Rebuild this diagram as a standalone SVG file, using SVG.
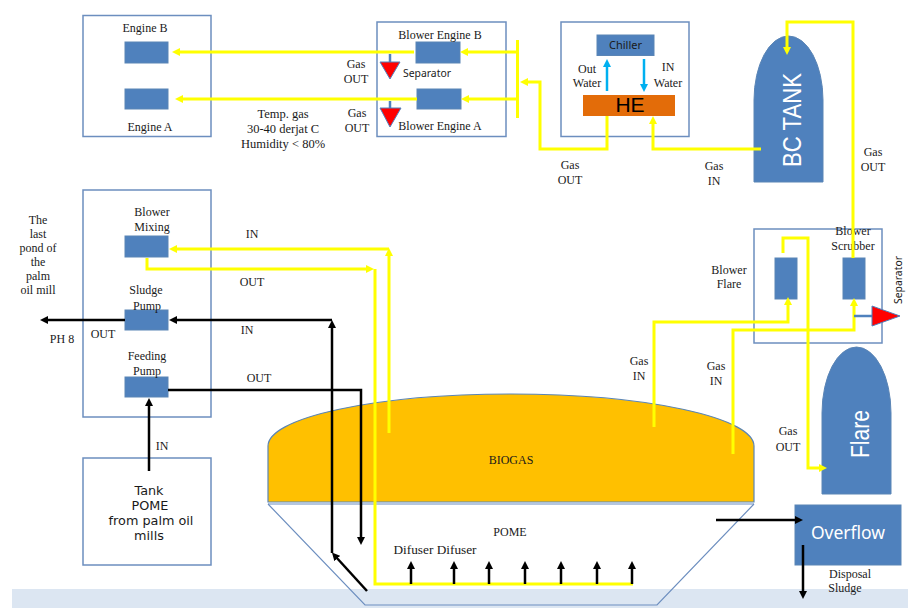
<svg xmlns="http://www.w3.org/2000/svg" width="908" height="608" viewBox="0 0 908 608">
<style>
text{font-family:"Liberation Serif","Times New Roman",serif;font-size:12px;fill:#1a1a1a;text-anchor:middle}
.sans{font-family:"Noto Sans","Liberation Sans",sans-serif}
.box{fill:#fff;stroke:#6c8ebf;stroke-width:1.5}
.b{fill:#4f81bd;stroke:#5b85b5;stroke-width:1}
.y,.k,.c,.s{fill:none;stroke-linejoin:miter}
.y{stroke:#ffff00;stroke-width:3}
.k{stroke:#000;stroke-width:2.5}
.c{stroke:#00b0f0;stroke-width:2.5}
.s{stroke:#4f81bd;stroke-width:2.5}
.tri{fill:#ff0000;stroke:#4f81bd;stroke-width:1}
.tank{font-family:"DejaVu Sans",sans-serif;font-size:12.800px}
.tl{font-size:12.500px}
</style>
<defs>
<marker id="ay" markerUnits="userSpaceOnUse" viewBox="0 0 8 8" markerWidth="8" markerHeight="8" refX="2" refY="4" orient="auto"><path d="M0 0L8 4L0 8Z" fill="#ffff00"/></marker>
<marker id="ak" markerUnits="userSpaceOnUse" viewBox="0 0 8 8" markerWidth="8" markerHeight="8" refX="2" refY="4" orient="auto"><path d="M0 0L8 4L0 8Z" fill="#000"/></marker>
<marker id="ac" markerUnits="userSpaceOnUse" viewBox="0 0 8 8" markerWidth="8" markerHeight="8" refX="2" refY="4" orient="auto"><path d="M0 0L8 4L0 8Z" fill="#00b0f0"/></marker>
</defs>
<rect id="ground" x="12" y="589" width="896" height="19" fill="#dce6f2"/>

<g id="engine-box">
<rect class="box" x="83" y="15.500" width="128" height="121"/>
<rect class="b" x="125" y="42" width="43" height="21"/>
<rect class="b" x="125" y="89" width="43" height="20"/>
<text x="145" y="32">Engine B</text>
<text x="150" y="131">Engine A</text>
</g>
<g id="blower-engine-box">
<rect class="box" x="377" y="22" width="129" height="114.500"/>
<rect class="b" x="416" y="42" width="44" height="21"/>
<rect class="b" x="417" y="89" width="44" height="20"/>
<text x="440" y="39">Blower Engine B</text>
<text x="440" y="130">Blower Engine A</text>
</g>
<g id="he-box">
<rect class="box" x="561" y="22" width="128" height="114.500"/>
<rect id="chiller" class="b" x="597" y="35" width="57" height="20.500"/>
<rect id="he" x="583" y="95" width="92" height="21" fill="#e36c09"/>
<text class="sans" x="625.500" y="49" style="font-size:11px">Chiller</text>
<text x="630" y="112" style="font-family:'Liberation Sans',sans-serif;font-size:21px;fill:#000">HE</text>
<text x="587" y="73">Out</text><text x="587" y="87">Water</text>
<text x="668" y="71">IN</text><text x="668" y="87">Water</text>
</g>
<g id="bc-tank">
<path class="b" d="M754 182V100A34.500 64 0 0 1 823 100V182Z"/>
<text transform="translate(801 120) rotate(-90)" textLength="94" lengthAdjust="spacingAndGlyphs" style="font-family:'Liberation Sans',sans-serif;font-size:25px;fill:#fff">BC TANK</text>
</g>
<g id="mixing-box">
<rect class="box" x="83" y="190" width="128" height="227"/>
<rect class="b" x="125" y="236" width="43" height="21"/>
<rect class="b" x="125" y="310" width="43" height="20"/>
<rect class="b" x="125" y="377" width="43" height="20"/>
<text x="152" y="216">Blower</text><text x="152" y="231">Mixing</text>
<text x="146" y="294">Sludge</text><text x="147" y="310">Pump</text>
<text x="147" y="360">Feeding</text><text x="147" y="375">Pump</text>
</g>
<g id="tank-pome">
<rect class="box" x="83" y="458" width="128" height="107"/>
<text class="tank" x="149" y="495">Tank</text>
<text class="tank" x="150" y="510">POME</text>
<text class="tank" x="151" y="525">from palm oil</text>
<text class="tank" x="149" y="540">mills</text>
</g>
<g id="scrubber-box">
<rect class="box" x="754" y="229" width="128" height="114"/>
<rect class="b" x="775" y="258" width="22" height="41"/>
<rect class="b" x="843" y="258" width="22" height="41"/>
<text x="729" y="274">Blower</text><text x="729" y="288">Flare</text>
<text x="853" y="235">Blower</text><text x="853" y="250">Scrubber</text>
</g>
<g id="flare">
<path class="b" d="M822 494V413A34.500 66 0 0 1 891 413V494Z"/>
<text transform="translate(869 434) rotate(-90)" textLength="48" lengthAdjust="spacingAndGlyphs" style="font-family:'Liberation Sans',sans-serif;font-size:25px;fill:#fff">Flare</text>
</g>
<g id="overflow">
<rect class="b" x="795" y="505" width="106" height="60"/>
<text class="sans" x="848" y="539" style="font-size:17.500px;fill:#fff">Overflow</text>
</g>
<g id="digester">
<path d="M268 504L365 605H657L754 504" fill="none" stroke="#6c8ebf" stroke-width="1.200"/>
<path d="M268 502V446A243 52 0 0 1 754 446V502Z" fill="#ffc000" stroke="#5b85b5" stroke-width="1.200"/>
<path d="M268 504H754" stroke="#6c8ebf" stroke-width="1.200"/>
<text x="511" y="464">BIOGAS</text>
<text x="510" y="536">POME</text>
<text x="435" y="554" style="font-size:13.300px">Difuser Difuser</text>
</g>

<g id="connectors">
<path class="y" d="M414 52H178" marker-end="url(#ay)"/>
<path class="y" d="M417 99H181" marker-end="url(#ay)"/>
<path class="y" d="M518 52H466" marker-end="url(#ay)"/>
<path class="y" d="M518 99H467" marker-end="url(#ay)"/>
<path class="y" d="M517.500 40V118"/>
<path class="y" d="M607 116V149H540V82H526" marker-end="url(#ay)"/>
<path class="y" d="M761 149H653V122" marker-end="url(#ay)"/>
<path class="y" d="M853 258V22H787V49" marker-end="url(#ay)"/>
<path class="y" d="M783 253V238H808V468H821" marker-end="url(#ay)"/>
<path class="y" d="M654 427V322H788V303" marker-end="url(#ay)"/>
<path class="y" d="M733 454V330H854V304" marker-end="url(#ay)"/>
<path class="y" d="M389 433V254" marker-end="url(#ay)"/>
<path class="y" d="M389 249H175" marker-end="url(#ay)"/>
<path class="y" d="M147 258V269H368" marker-end="url(#ay)"/>
<path class="y" d="M375 269V584H633"/>
<path class="c" d="M607 91V65" marker-end="url(#ac)"/>
<path class="c" d="M644 59V86" marker-end="url(#ac)"/>
<path class="k" d="M332 553V326" marker-end="url(#ak)"/>
<path class="k" d="M332 320H175" marker-end="url(#ak)"/>
<path class="k" d="M125 320H46" marker-end="url(#ak)"/>
<path class="k" d="M367 591L336 557" marker-end="url(#ak)"/>
<path class="k" d="M168 390H361V539" marker-end="url(#ak)"/>
<path class="k" d="M149 471V404" marker-end="url(#ak)"/>
<path class="k" d="M411 584V567" marker-end="url(#ak)"/>
<path class="k" d="M454 584V567" marker-end="url(#ak)"/>
<path class="k" d="M489 584V567" marker-end="url(#ak)"/>
<path class="k" d="M525 584V567" marker-end="url(#ak)"/>
<path class="k" d="M561 584V567" marker-end="url(#ak)"/>
<path class="k" d="M597 584V567" marker-end="url(#ak)"/>
<path class="k" d="M632 584V567" marker-end="url(#ak)"/>
<path class="k" d="M716 520H797" marker-end="url(#ak)"/>
<path class="k" d="M803 545V593" marker-end="url(#ak)"/>
<path class="s" d="M390 54V62"/>
<path class="s" d="M390 101V108"/>
<path class="s" d="M854 316H872"/>
</g>
<g id="separators">
<path class="tri" d="M380 62H400L390 79Z"/>
<path class="tri" d="M380 108H401L390 127Z"/>
<path class="tri" d="M872 306L900 316L872 326Z"/>
<text class="sans" x="427" y="77" style="font-size:10.400px">Separator</text>
<text class="sans" transform="translate(902 280) rotate(-90)" style="font-size:10.400px">Separator</text>
</g>
<g id="labels">
<text x="356" y="68">Gas</text><text x="356" y="83">OUT</text>
<text x="357" y="117">Gas</text><text x="357" y="132">OUT</text>
<text class="tl" x="283" y="118">Temp. gas</text><text class="tl" x="283" y="133">30-40 derjat C</text><text class="tl" x="283" y="148">Humidity &lt; 80%</text>
<text x="570" y="169">Gas</text><text x="570" y="184">OUT</text>
<text x="714" y="170">Gas</text><text x="714" y="185">IN</text>
<text x="873" y="156">Gas</text><text x="873" y="171">OUT</text>
<text x="38" y="224">The</text><text x="38" y="238">last</text><text x="38" y="252">pond of</text><text x="38" y="266">the</text><text x="38" y="280">palm</text><text x="38" y="294">oil mill</text>
<text x="252" y="238">IN</text><text x="252" y="286">OUT</text>
<text x="247" y="334">IN</text><text x="259" y="382">OUT</text>
<text x="103" y="338">OUT</text><text x="62" y="343">PH 8</text>
<text x="162" y="450">IN</text>
<text x="639" y="365">Gas</text><text x="639" y="380">IN</text>
<text x="716" y="370">Gas</text><text x="716" y="385">IN</text>
<text x="788" y="435">Gas</text><text x="788" y="451">OUT</text>
<text x="850" y="578">Disposal</text><text x="845" y="592">Sludge</text>
</g>
</svg>
